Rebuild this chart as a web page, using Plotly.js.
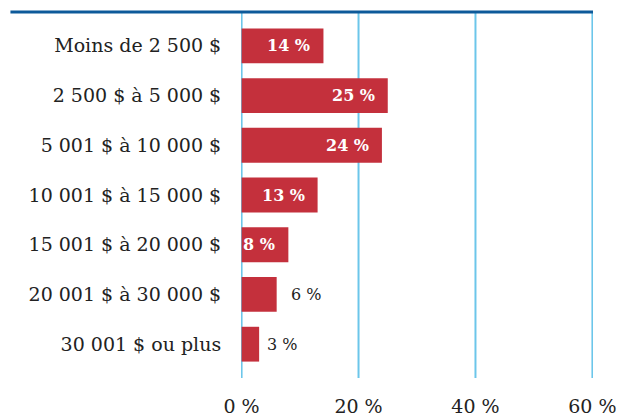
<!DOCTYPE html>
<html>
<head>
<meta charset="utf-8">
<script src="https://cdn.plot.ly/plotly-3.0.1.min.js"></script>
<style>html,body{margin:0;padding:0;background:#fff;}#chart{width:622px;height:418px;}</style>
</head>
<body>
<div id="chart"></div>
<script>
const categories = [
  "Moins de 2 500 $",
  "2 500 $ à 5 000 $",
  "5 001 $ à 10 000 $",
  "10 001 $ à 15 000 $",
  "15 001 $ à 20 000 $",
  "20 001 $ à 30 000 $",
  "30 001 $ ou plus"
];
const values = [14, 25, 24, 13, 8, 6, 3];
const labelInside = [true, true, true, true, true, false, false];
const tickVals = [0, 20, 40, 60];
const tickText = ["0 %", "20 %", "40 %", "60 %"];

const FONT = "DejaVu Serif, serif";
const GRID = "#6cc6ea";

const trace = {
  type: "bar",
  orientation: "h",
  y: categories,
  x: values,
  marker: { color: "#c4303c" },
  width: 0.7,
  hoverinfo: "none"
};

const annotations = values.map((v, i) => ({
  x: v,
  y: categories[i],
  xref: "x",
  yref: "y",
  text: v + " %",
  showarrow: false,
  xanchor: labelInside[i] ? "right" : "left",
  xshift: labelInside[i] ? -11 : (v >= 5 ? 12 : 6),
  font: {
    family: FONT,
    size: 16,
    color: labelInside[i] ? "#ffffff" : "#222222",
    weight: labelInside[i] ? "bold" : "normal"
  }
}));

const gridShapes = tickVals.map(t => ({
  type: "line",
  xref: "x",
  yref: "paper",
  x0: t, x1: t,
  y0: 0, y1: 1,
  layer: "below",
  line: { color: GRID, width: 2 }
}));

const layout = {
  width: 622,
  height: 418,
  margin: { l: 241, r: 29, t: 12, b: 40 },
  paper_bgcolor: "#ffffff",
  plot_bgcolor: "#ffffff",
  showlegend: false,
  font: { family: FONT, size: 19, color: "#222222" },
  xaxis: {
    range: [-0.1, 60.1],
    tickvals: tickVals,
    ticktext: tickText,
    showgrid: false,
    zeroline: false,
    showline: false,
    ticks: "outside",
    ticklen: 11,
    tickcolor: "rgba(0,0,0,0)",
    tickfont: { family: FONT, size: 19, color: "#222222" },
    fixedrange: true
  },
  yaxis: {
    type: "category",
    autorange: false,
    range: [6.68, -0.68],
    showgrid: false,
    zeroline: false,
    showline: false,
    ticks: "outside",
    ticklen: 15,
    tickcolor: "rgba(0,0,0,0)",
    tickfont: { family: FONT, size: 19, color: "#222222" },
    fixedrange: true
  },
  shapes: gridShapes.concat([{
    type: "line",
    xref: "paper",
    yref: "paper",
    x0: -0.655,
    x1: 1.0,
    y0: 1,
    y1: 1,
    line: { color: "#0d5a9a", width: 3 }
  }]),
  annotations: annotations,
  bargap: 0.3
};

Plotly.newPlot("chart", [trace], layout, { displayModeBar: false, staticPlot: true });
</script>
</body>
</html>
